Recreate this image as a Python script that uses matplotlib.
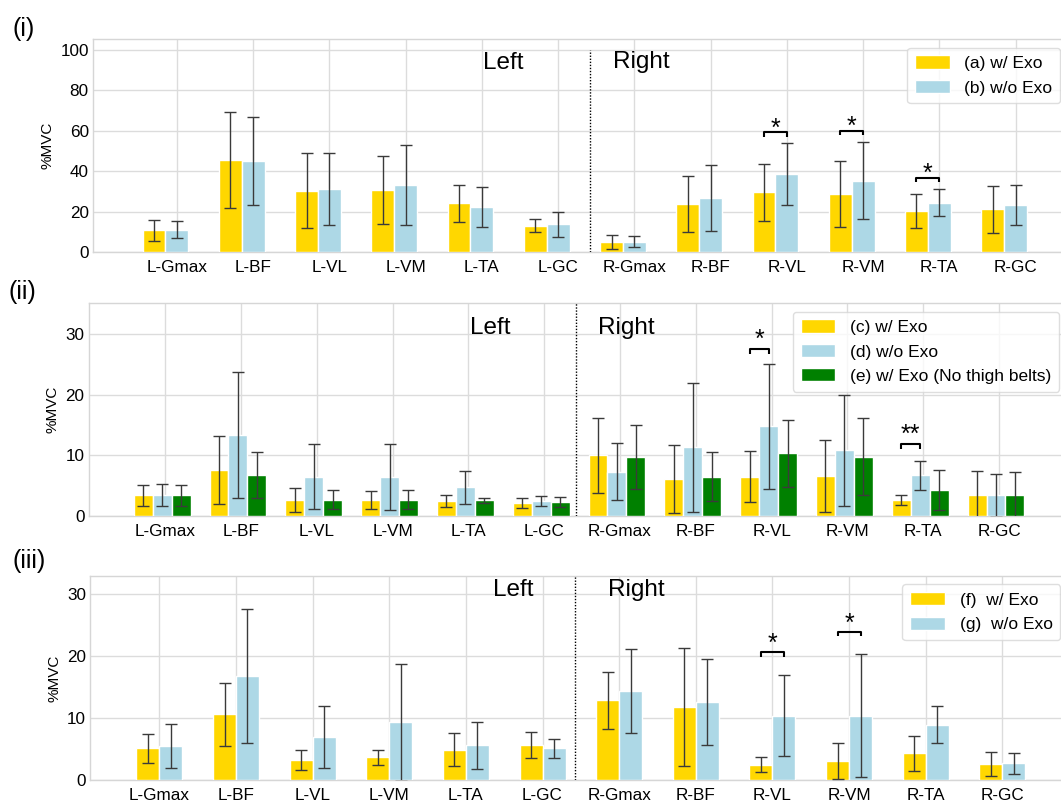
import numpy as np
import matplotlib
matplotlib.use("Agg")
import matplotlib.pyplot as plt

plt.rcParams.update({
    "font.family": ["Liberation Sans", "DejaVu Sans"],
    "axes.edgecolor": "#d6d6d6",
    "axes.linewidth": 1.0,
    "axes.facecolor": "white",
    "grid.color": "#dcdcdc",
    "grid.linewidth": 1.0,
    "xtick.major.size": 0,
    "ytick.major.size": 0,
    "xtick.major.pad": 6,
    "ytick.major.pad": 3,
    "xtick.labelsize": 12.3,
    "ytick.labelsize": 12.3,
    "axes.axisbelow": True,
    "legend.fontsize": 12.5,
})

muscles = ["L-Gmax", "L-BF", "L-VL", "L-VM", "L-TA", "L-GC",
           "R-Gmax", "R-BF", "R-VL", "R-VM", "R-TA", "R-GC"]

# Panel (i)
i_a_mean = [10.7, 45.5, 30.4, 30.7, 24.1, 12.9, 5.0, 23.8, 29.5, 28.8, 20.2, 21.2]
i_a_sd   = [5.3, 23.7, 18.6, 16.8, 9.1, 3.2, 3.3, 13.9, 14.3, 16.5, 8.4, 11.7]
i_b_mean = [11.1, 45.1, 31.1, 33.2, 22.3, 13.7, 5.0, 26.6, 38.6, 35.4, 24.5, 23.2]
i_b_sd   = [4.3, 22.0, 17.9, 19.7, 9.8, 6.3, 2.7, 16.3, 15.4, 19.2, 6.8, 10.0]

# Panel (ii)
ii_c_mean = [3.4, 7.6, 2.6, 2.6, 2.5, 2.1, 10.0, 6.1, 6.5, 6.6, 2.6, 3.5]
ii_c_sd   = [1.7, 5.6, 2.0, 1.5, 1.0, 0.8, 6.2, 5.6, 4.2, 6.0, 0.8, 3.9]
ii_d_mean = [3.5, 13.4, 6.5, 6.4, 4.7, 2.5, 7.3, 11.3, 14.8, 10.8, 6.7, 3.4]
ii_d_sd   = [1.8, 10.4, 5.4, 5.4, 2.7, 0.8, 4.7, 10.6, 10.3, 9.2, 2.4, 3.6]
ii_e_mean = [3.4, 6.7, 2.7, 2.7, 2.6, 2.3, 9.7, 6.5, 10.3, 9.8, 4.3, 3.4]
ii_e_sd   = [1.7, 3.8, 1.6, 1.6, 0.4, 0.8, 5.3, 4.0, 5.5, 6.3, 3.3, 3.8]

# Panel (iii)
iii_f_mean = [5.1, 10.6, 3.2, 3.7, 4.9, 5.6, 12.9, 11.8, 2.5, 3.0, 4.3, 2.6]
iii_f_sd   = [2.3, 5.1, 1.6, 1.2, 2.7, 2.1, 4.6, 9.6, 1.2, 2.9, 2.8, 2.0]
iii_g_mean = [5.5, 16.8, 7.0, 9.3, 5.6, 5.1, 14.4, 12.6, 10.4, 10.4, 8.9, 2.7]
iii_g_sd   = [3.6, 10.9, 5.0, 9.5, 3.8, 1.5, 6.8, 6.9, 6.6, 9.9, 3.0, 1.7]

# significance annotations: (muscle, bracket height, label)
sig_i = [("R-VL", 59.3, "*"), ("R-VM", 60.0, "*"), ("R-TA", 36.7, "*")]
sig_ii = [("R-VL", 27.5, "*"), ("R-TA", 11.8, "**")]
sig_iii = [("R-VL", 20.6, "*"), ("R-VM", 23.9, "*")]

YELLOW = "#FFD700"
BLUE = "#ADD8E6"
GREEN = "#008000"
ECOL = "#3a3a3a"

W, H = 1061, 802
fig = plt.figure(figsize=(W / 100, H / 100), dpi=100)


def px_axes(left, top, right, bottom):
    return fig.add_axes([left / W, 1 - bottom / H, (right - left) / W, (bottom - top) / H])


x = np.arange(len(muscles))
STAR_FS = 18


def draw_panel(ax, series, offsets, width, ylim, yticks, xlim, divider_top,
               sig, star_px, left_xy, right_xy, legend_labels):
    handles = []
    for (mean, sd, color), off in zip(series, offsets):
        b = ax.bar(x + off, mean, width=width, color=color, edgecolor="white",
                   linewidth=1.0, zorder=2)
        ax.errorbar(x + off, mean, yerr=sd, fmt="none", ecolor=ECOL,
                    elinewidth=1.0, capsize=4, capthick=1.0, zorder=3)
        handles.append(b)
    ax.set_xticks(x)
    ax.set_xticklabels(muscles)
    ax.set_ylim(*ylim)
    ax.set_yticks(yticks)
    ax.set_xlim(*xlim)
    ax.grid(True, axis="both")
    ax.set_ylabel("%MVC", fontsize=11)
    ax.vlines(5.42, 0, divider_top, colors="k", linestyles=(0, (1, 1.2)),
              linewidth=1.0, zorder=4)
    ax.text(left_xy[0], left_xy[1], "Left", fontsize=17.5, ha="left", va="baseline")
    ax.text(right_xy[0], right_xy[1], "Right", fontsize=17.5, ha="left", va="baseline")
    for name, yb, lab in sig:
        i = muscles.index(name)
        x1 = i + offsets[0]
        x2 = i + offsets[1]
        tip = 0.021 * (ylim[1] - ylim[0])
        ax.plot([x1, x1, x2, x2], [yb - tip, yb, yb, yb - tip], color="k",
                linewidth=1.5, zorder=5, solid_capstyle="butt")
        ax.annotate(lab, xy=((x1 + x2) / 2, yb), xycoords="data",
                    xytext=(0, star_px * 0.72 - 0.59 * STAR_FS), textcoords="offset points",
                    ha="center", va="baseline", fontsize=STAR_FS)
    leg = ax.legend(handles, legend_labels, loc="upper right", handlelength=2.0,
                    handleheight=0.8, handletextpad=0.85, labelspacing=0.5,
                    borderpad=0.45, frameon=True, fancybox=True)
    leg.get_frame().set_edgecolor("#d6d6d6")
    leg.get_frame().set_linewidth(1.0)
    for s in ax.spines.values():
        s.set_zorder(1)


# Panel (i)
ax1 = px_axes(93, 39, 1069, 252)
draw_panel(ax1,
           [(i_a_mean, i_a_sd, YELLOW), (i_b_mean, i_b_sd, BLUE)],
           [-0.3, 0.0], 0.3, (0, 105.5), [0, 20, 40, 60, 80, 100],
           (-1.10, 11.70), 100, sig_i, 11.5, (4.02, 90.6), (5.72, 91.0),
           ["(a) w/ Exo", "(b) w/o Exo"])

# Panel (ii)
ax2 = px_axes(88.6, 303, 1068, 516)
draw_panel(ax2,
           [(ii_c_mean, ii_c_sd, YELLOW), (ii_d_mean, ii_d_sd, BLUE),
            (ii_e_mean, ii_e_sd, GREEN)],
           [-0.29, -0.04, 0.21], 0.25, (0, 35.1), [0, 10, 20, 30],
           (-1.01, 11.91), 35.1, sig_ii, 17, (4.02, 30.0), (5.71, 30.0),
           ["(c) w/ Exo", "(d) w/o Exo", "(e) w/ Exo (No thigh belts)"])

# Panel (iii)
ax3 = px_axes(90.4, 575.7, 1069, 780)
draw_panel(ax3,
           [(iii_f_mean, iii_f_sd, YELLOW), (iii_g_mean, iii_g_sd, BLUE)],
           [-0.15, 0.15], 0.3, (0, 33.0), [0, 10, 20, 30],
           (-0.90, 11.87), 33.0, sig_iii, 16, (4.35, 29.8), (5.86, 29.8),
           ["(f)  w/ Exo", "(g)  w/o Exo"])

fig.text(12 / W, 1 - 29 / H, "(i)", fontsize=18, ha="left", va="center")
fig.text(8 / W, 1 - 292 / H, "(ii)", fontsize=18, ha="left", va="center")
fig.text(12 / W, 1 - 561 / H, "(iii)", fontsize=18, ha="left", va="center")

fig.savefig("out.png", dpi=100)
